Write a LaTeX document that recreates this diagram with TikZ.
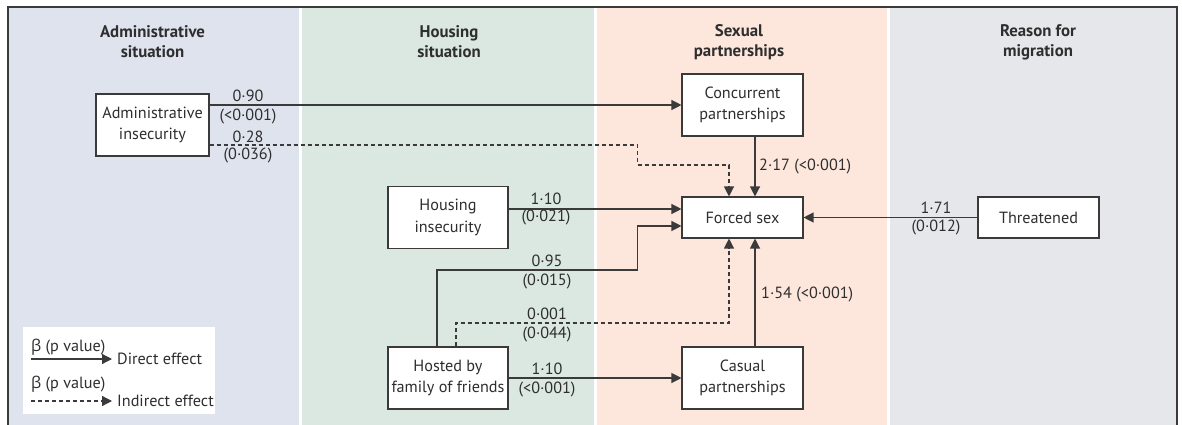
\documentclass[tikz,border=0pt]{standalone}
\usepackage{fontspec}
\setmainfont{PT Sans}
\newfontfamily\grk{Open Sans}
\usetikzlibrary{arrows.meta}
\definecolor{pblue}{HTML}{DEE3EE}
\definecolor{pgreen}{HTML}{DAE8E1}
\definecolor{ppeach}{HTML}{FDE7DC}
\definecolor{pgrey}{HTML}{E6E7EA}
\definecolor{ink}{HTML}{2E2E2E}
\definecolor{lin}{HTML}{3A3A3A}
\tikzset{
  box/.style={draw=lin, line width=1.1pt, fill=white, align=center, inner sep=0pt, minimum height=62pt, text=ink},
  head/.style={align=center, font=\fontsize{16.8}{20}\selectfont\bfseries, text=ink},
  lab/.style={inner sep=0pt, text=ink},
  arr/.style={draw=lin, line width=1.2pt, -{Triangle[length=10pt,width=10pt]}},
  darr/.style={arr, dash pattern=on 4pt off 3pt},
}
\begin{document}
\begin{tikzpicture}[x=1pt,y=-1pt, font=\fontsize{16.2}{21.5}\selectfont]
\useasboundingbox (0,0) rectangle (1182,425);
% panels
\fill[pblue] (8,7) rectangle (299,425);
\fill[pgreen] (302,7) rectangle (594,425);
\fill[ppeach] (597,7) rectangle (887,425);
\fill[pgrey] (890,7) rectangle (1177,425);
\draw[lin, line width=1.6pt] (8,425) -- (8,7) -- (1177,7) -- (1177,425);
% headers
\node[head] (h1) at (152.5,42) {Administrative\\situation};
\node[head] (h2) at (449,42) {Housing\\situation};
\node[head] (h3) at (739,42) {Sexual\\partnerships};
\node[head] (h4) at (1038,42) {Reason for\\migration};
% boxes
\node[box, minimum width=113pt] (admin) at (152.5,125) {Administrative\\insecurity};
\node[box, minimum width=121pt] (conc) at (742.5,105) {Concurrent\\partnerships};
\node[box, minimum width=121pt, minimum height=41pt] (forced) at (742.5,217.5) {Forced sex};
\node[box, minimum width=121pt, minimum height=41pt] (threat) at (1038.5,217.5) {Threatened};
\node[box, minimum width=120pt] (housing) at (448,217.5) {Housing\\insecurity};
\node[box, minimum width=120pt] (hosted) at (448,378) {Hosted by\\family of friends};
\node[box, minimum width=121pt] (casual) at (742.5,378) {Casual\\partnerships};
% connectors
\draw[arr] (admin.east |- conc.west) -- (conc.west);
\draw[darr] ([yshift=-20pt]admin.east) -- (637.5,145) |- (729,165) -- ([xshift=-13.5pt]forced.north);
\draw[arr] ([xshift=12.5pt]conc.south) -- ([xshift=12.5pt]forced.north);
\draw[arr] ([yshift=8.5pt]housing.east) -- ([yshift=8.5pt]forced.west);
\draw[arr] ([xshift=-11pt]hosted.north) |- (637.5,270) |- ([yshift=-8.5pt]forced.west);
\draw[darr] ([xshift=8pt]hosted.north) |- (729,323) -- ([xshift=-13.5pt]forced.south);
\draw[arr] (hosted.east) -- (casual.west);
\draw[arr] ([xshift=12.5pt]casual.north) -- ([xshift=12.5pt]forced.south);
\draw[arr] (threat.west) -- (forced.east);
% labels
\node[lab] (l1) at (248,96) {0·90};
\node[lab] (l2) at (248,117) {(<0·001)};
\node[lab] (l3) at (248,137) {0·28};
\node[lab] (l4) at (248,156) {(0·036)};
\node[lab, anchor=west] (l5) at (759,167) {2·17 (<0·001)};
\node[lab] (l6) at (546,199) {1·10};
\node[lab] (l7) at (546,218) {(0·021)};
\node[lab] (l8) at (547,261) {0·95};
\node[lab] (l9) at (547,282) {(0·015)};
\node[lab] (l10) at (547,314) {0·001};
\node[lab] (l11) at (547,335) {(0·044)};
\node[lab] (l12) at (547,369) {1·10};
\node[lab] (l13) at (547,390) {(<0·001)};
\node[lab, anchor=west] (l14) at (761,295) {1·54 (<0·001)};
\node[lab] (l15) at (936,208) {1·71};
\node[lab] (l16) at (936,228) {(0·012)};
% legend
\fill[white] (23,327) rectangle (215,414);
\node[lab, anchor=west] (g1) at (31,347) {{\grk β} (p value)};
\coordinate (gs1) at (31,359);
\coordinate (ge1) at (112,359);
\draw[arr] (gs1) -- (ge1);
\node[lab, anchor=west] (g2) at (117,359) {Direct effect};
\node[lab, anchor=west] (g3) at (31,384) {{\grk β} (p value)};
\coordinate (gs2) at (31,401);
\coordinate (ge2) at (112,401);
\draw[darr] (gs2) -- (ge2);
\node[lab, anchor=west] (g4) at (117,401) {Indirect effect};
\end{tikzpicture}
\end{document}
